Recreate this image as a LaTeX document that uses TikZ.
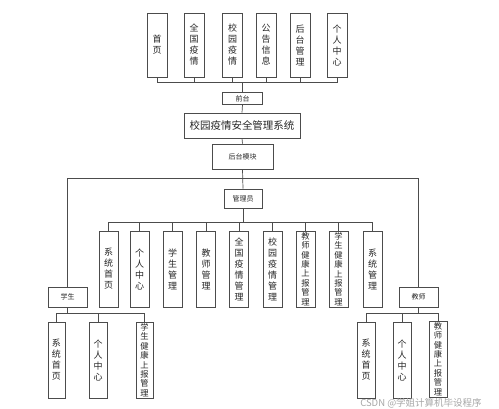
\documentclass[tikz,border=0pt]{standalone}
\usepackage{fontspec}
\setmainfont{Noto Sans CJK SC}
\begin{document}
\begin{tikzpicture}[x=1pt,y=-1pt,
  line/.style={draw=black!70,line width=0.7pt},
  box/.style={draw=black!70,line width=0.7pt,inner sep=0pt,align=center,text=black!85},
  topbox/.style={box,minimum width=20pt,minimum height=64pt,font=\fontsize{9}{11}\selectfont},
  midbox/.style={box,minimum width=19pt,minimum height=76pt,font=\fontsize{9}{11}\selectfont},
  longbox/.style={box,minimum width=19pt,minimum height=76pt,font=\fontsize{8.3}{9.4}\selectfont},
  lblbox/.style={box,minimum height=17pt,font=\fontsize{7}{8}\selectfont}]
\useasboundingbox (0,0) rectangle (499,409);
% top row
\node[topbox] (t1) at (157,45) {首\\页};
\node[topbox] (t2) at (194,45) {全\\国\\疫\\情};
\node[topbox] (t3) at (232.5,45) {校\\园\\疫\\情};
\node[topbox] (t4) at (266,45) {公\\告\\信\\息};
\node[topbox] (t5) at (300,45) {后\\台\\管\\理};
\node[topbox] (t6) at (337,45) {个\\人\\中\\心};
\node[lblbox,minimum width=40pt,minimum height=12pt] (qt) at (242.5,98.5) {前台};
\node[box,minimum width=116pt,minimum height=25pt,font=\fontsize{10.5}{12}\selectfont] (sys) at (242,125.5) {校园疫情安全管理系统};
\node[box,minimum width=61pt,minimum height=25pt,font=\fontsize{7}{8}\selectfont] (ht) at (242.5,156.5) {后台模块};
\node[lblbox,minimum width=38pt,minimum height=19pt] (gly) at (243,198.5) {管理员};
\node[lblbox,minimum width=39pt,minimum height=20pt] (xs) at (67.5,297) {学生};
\node[lblbox,minimum width=39pt,minimum height=20pt] (js) at (418.5,297) {教师};
% admin children
\node[midbox] (a1) at (108.5,269) {系\\统\\首\\页};
\node[midbox] (a2) at (139.5,269) {个\\人\\中\\心};
\node[midbox] (a3) at (172.5,269) {学\\生\\管\\理};
\node[midbox] (a4) at (206,269) {教\\师\\管\\理};
\node[midbox] (a5) at (239,269) {全\\国\\疫\\情\\管\\理};
\node[midbox] (a6) at (272.5,269) {校\\园\\疫\\情\\管\\理};
\node[longbox] (a7) at (305.5,269) {教\\师\\健\\康\\上\\报\\管\\理};
\node[longbox] (a8) at (338.5,269) {学\\生\\健\\康\\上\\报\\管\\理};
\node[midbox] (a9) at (372.5,269) {系\\统\\管\\理};
% student children
\node[midbox,minimum width=17pt] (s1) at (56.5,360) {系\\统\\首\\页};
\node[midbox,minimum width=18pt] (s2) at (98,360) {个\\人\\中\\心};
\node[longbox,minimum width=17pt] (s3) at (144.5,360) {学\\生\\健\\康\\上\\报\\管\\理};
% teacher children
\node[midbox,minimum width=18pt] (j1) at (366,360) {系\\统\\首\\页};
\node[midbox,minimum width=18pt] (j2) at (402,360) {个\\人\\中\\心};
\node[longbox,minimum width=18pt] (j3) at (438,359) {教\\师\\健\\康\\上\\报\\管\\理};
% bus coordinates
\coordinate (b1) at (0,82);
\coordinate (b2) at (0,178.5);
\coordinate (b3) at (0,222);
\coordinate (b4) at (0,313);
% connectors
\foreach \n in {t1,t2,t3,t4,t5,t6}
  \draw[line] (\n.south) |- (qt.north |- b1) -- (qt.north);
\draw[line] (qt.south) -- (sys.north);
\draw[line] (sys.south) -- (ht.north);
\draw[line] (ht.south) -- (gly.north);
\draw[line] (xs.north) |- (ht.south |- b2) -| (js.north);
\foreach \n in {a1,a2,a3,a4,a5,a6,a7,a8,a9}
  \draw[line] (gly.south) |- (\n.north |- b3) -- (\n.north);
\foreach \n in {s1,s2,s3}
  \draw[line] (xs.south) |- (\n.north |- b4) -- (\n.north);
\foreach \n in {j1,j2,j3}
  \draw[line] (js.south) |- (\n.north |- b4) -- (\n.north);
% watermark
\node[text=black!35,font=\fontsize{9.5}{11}\selectfont,inner sep=0pt] (wm) at (421,403) {CSDN @学姐计算机毕设程序};
\end{tikzpicture}
\end{document}
